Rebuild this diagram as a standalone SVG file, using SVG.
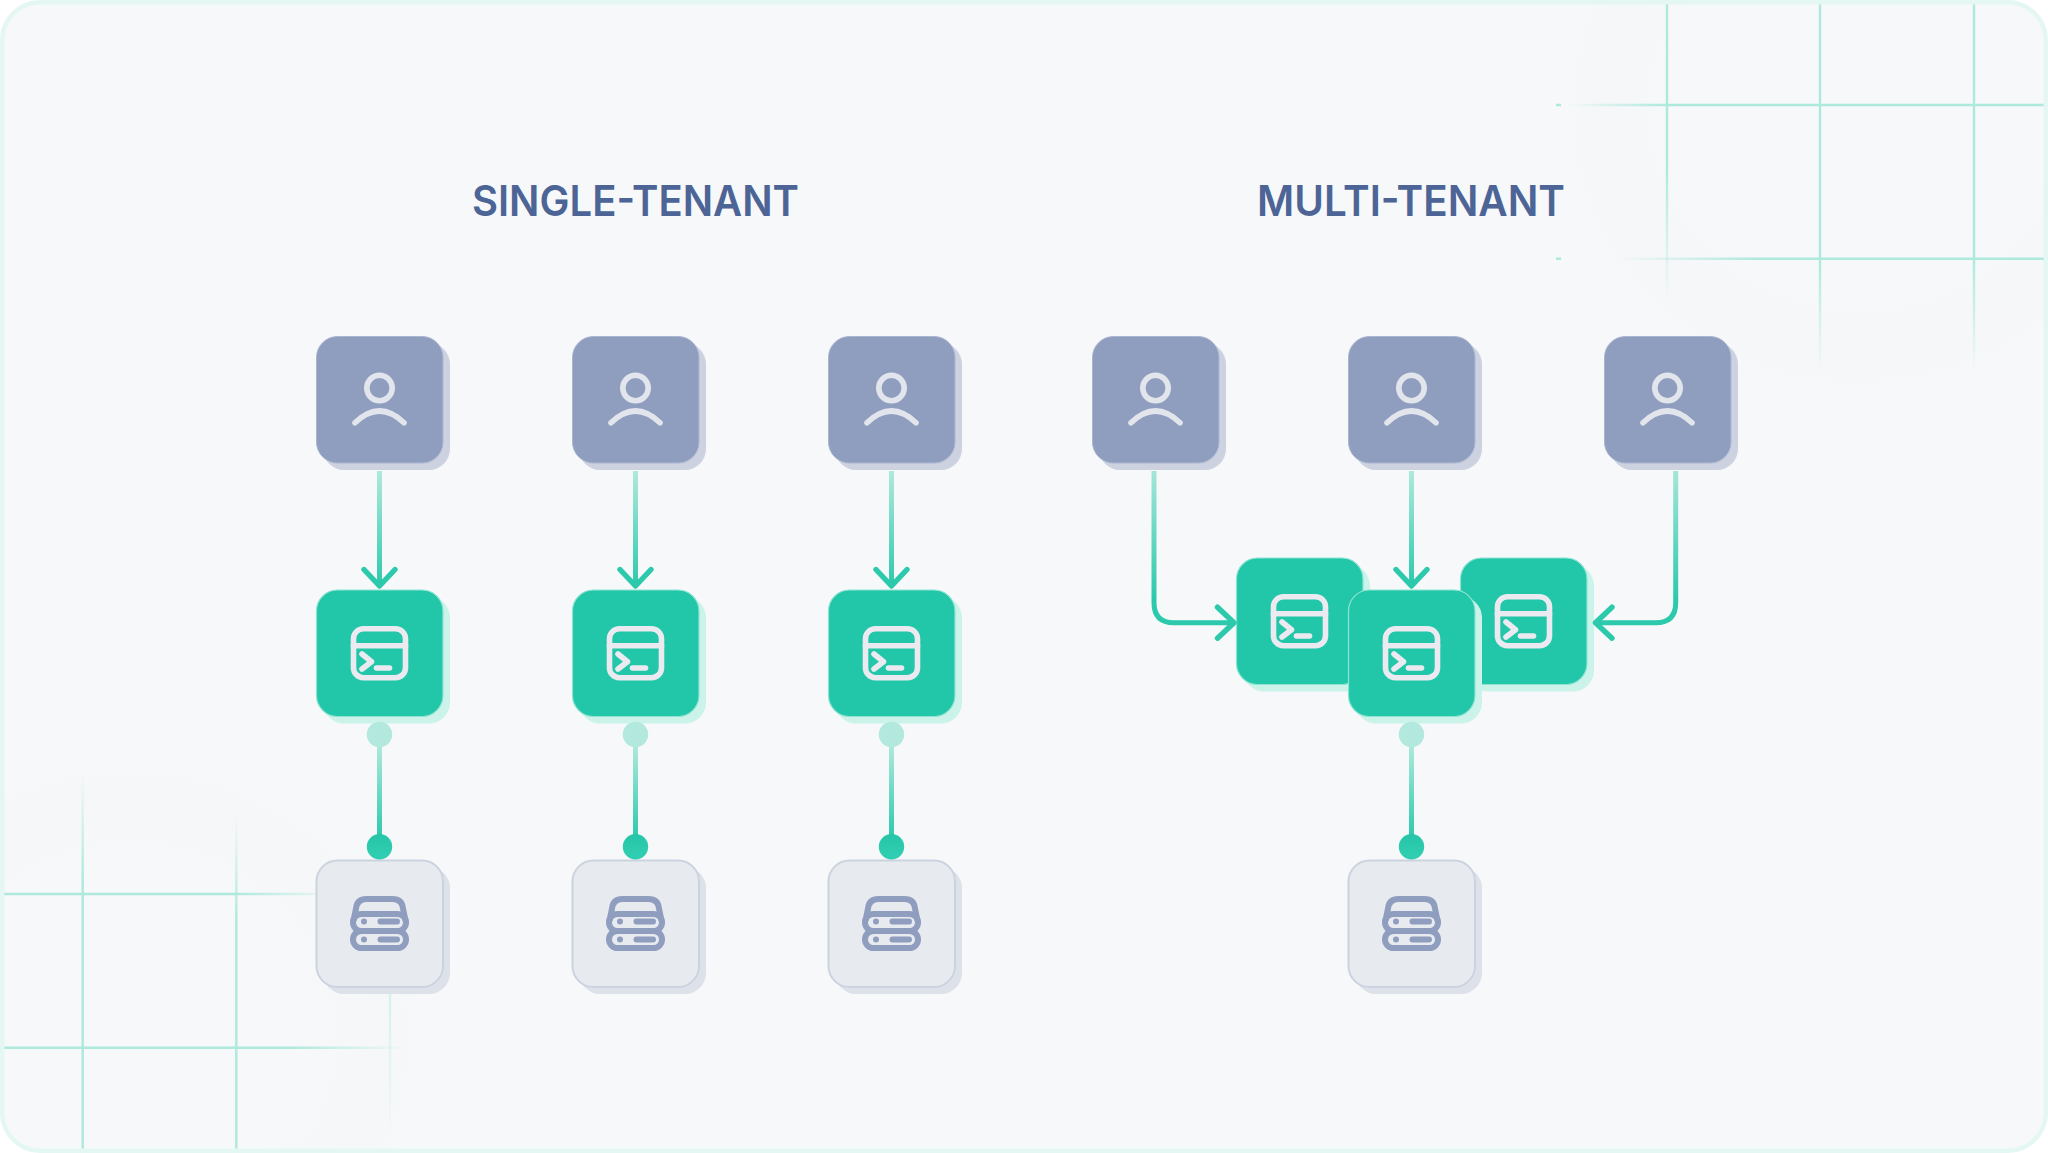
<svg xmlns="http://www.w3.org/2000/svg" width="2048" height="1153" viewBox="0 0 2048 1153">
<style>
.title{font-family:"Inter","Liberation Sans",Arial,sans-serif;font-weight:600;font-size:43px;fill:#4d6496;text-anchor:middle}
.ic{fill:none;stroke-width:5.6;stroke-linecap:round;stroke-linejoin:round}
.ic-user{stroke:#e3e5ec}.ic-term{stroke:#ebeaf0}.ic-db{stroke:#8f9dbf;stroke-width:6}
.ic-dot{fill:#8f9dbf;stroke:none}
.u-sh{fill:#ccd2e0}.u-bd{fill:#8f9dbf;stroke:#a9b5cf;stroke-width:1}
.s-sh{fill:#ccf3ea}.s-bd{fill:#22c7a9;stroke:#8fe3d2;stroke-width:1.2}
.d-sh{fill:#dde1e9}.d-bd{fill:#e7eaee;stroke:#ccd2e0;stroke-width:2}
.gl{stroke-width:2.4;fill:none}
.cn{fill:none;stroke-width:5}
</style>
<defs>
<linearGradient id="gA" gradientUnits="userSpaceOnUse" x1="0" y1="471" x2="0" y2="586"><stop offset="0" stop-color="#b0e9dd"/><stop offset="1" stop-color="#2cc9ac"/></linearGradient>
<linearGradient id="gE" gradientUnits="userSpaceOnUse" x1="0" y1="471" x2="0" y2="600"><stop offset="0" stop-color="#a4e6d9"/><stop offset="1" stop-color="#2cc9ac"/></linearGradient>
<linearGradient id="gB" gradientUnits="userSpaceOnUse" x1="0" y1="745" x2="0" y2="838"><stop offset="0" stop-color="#b0e9dd"/><stop offset="1" stop-color="#2cc9ac"/></linearGradient>
<linearGradient id="gD" x1="0" y1="0" x2="0" y2="1"><stop offset="0" stop-color="#25c5a7"/><stop offset="1" stop-color="#32d0b2"/></linearGradient>
<radialGradient id="blob"><stop offset="0" stop-color="#f3f4f6" stop-opacity="0"/><stop offset="0.6" stop-color="#f3f4f6" stop-opacity="0"/><stop offset="0.88" stop-color="#f3f4f6" stop-opacity="0.35"/><stop offset="1" stop-color="#f3f4f6" stop-opacity="0"/></radialGradient>
<linearGradient id="v1" gradientUnits="userSpaceOnUse" x1="0" y1="170" x2="0" y2="300"><stop offset="0" stop-color="#aee9dd"/><stop offset="1" stop-color="#aee9dd" stop-opacity="0"/></linearGradient>
<linearGradient id="v2" gradientUnits="userSpaceOnUse" x1="0" y1="260" x2="0" y2="373"><stop offset="0" stop-color="#aee9dd"/><stop offset="1" stop-color="#aee9dd" stop-opacity="0"/></linearGradient>
<linearGradient id="h1" gradientUnits="userSpaceOnUse" x1="1566" y1="0" x2="1667" y2="0"><stop offset="0" stop-color="#aee9dd" stop-opacity="0"/><stop offset="1" stop-color="#aee9dd"/></linearGradient>
<linearGradient id="h2" gradientUnits="userSpaceOnUse" x1="1615" y1="0" x2="1760" y2="0"><stop offset="0" stop-color="#aee9dd" stop-opacity="0"/><stop offset="1" stop-color="#aee9dd"/></linearGradient>
<linearGradient id="v3" gradientUnits="userSpaceOnUse" x1="0" y1="773" x2="0" y2="880"><stop offset="0" stop-color="#aee9dd" stop-opacity="0"/><stop offset="1" stop-color="#aee9dd"/></linearGradient>
<linearGradient id="v4" gradientUnits="userSpaceOnUse" x1="0" y1="816" x2="0" y2="920"><stop offset="0" stop-color="#aee9dd" stop-opacity="0"/><stop offset="1" stop-color="#aee9dd"/></linearGradient>
<linearGradient id="v5" gradientUnits="userSpaceOnUse" x1="0" y1="990" x2="0" y2="1145"><stop offset="0" stop-color="#aee9dd" stop-opacity="0.45"/><stop offset="1" stop-color="#aee9dd" stop-opacity="0"/></linearGradient>
<linearGradient id="h3" gradientUnits="userSpaceOnUse" x1="236" y1="0" x2="316" y2="0"><stop offset="0" stop-color="#aee9dd"/><stop offset="1" stop-color="#aee9dd" stop-opacity="0.25"/></linearGradient>
<linearGradient id="h4" gradientUnits="userSpaceOnUse" x1="290" y1="0" x2="408" y2="0"><stop offset="0" stop-color="#aee9dd"/><stop offset="1" stop-color="#aee9dd" stop-opacity="0"/></linearGradient>
<clipPath id="frame"><rect x="4" y="4" width="2040" height="1145" rx="36"/></clipPath>
<marker id="ah" markerUnits="userSpaceOnUse" markerWidth="44" markerHeight="44" refX="22" refY="22" orient="auto"><path d="M5.5 6.5 L22 22 L5.5 37.5" fill="none" stroke="#2cc9ac" stroke-width="5.4" stroke-linecap="round" stroke-linejoin="round"/></marker>
<g id="b-user"><rect class="u-sh" x="-56.5" y="-56.5" width="127" height="127" rx="21"/><rect class="u-bd" x="-63" y="-63" width="126.5" height="126.5" rx="21"/></g>
<g id="b-srv"><rect class="s-sh" x="-56.5" y="-56.5" width="127" height="127" rx="21"/><rect class="s-bd" x="-63" y="-63" width="126.5" height="126.5" rx="21"/></g>
<g id="b-db"><rect class="d-sh" x="-56.5" y="-56.5" width="127" height="127" rx="21"/><rect class="d-bd" x="-63" y="-63" width="126.5" height="126.5" rx="21"/></g>
<g id="i-user" class="ic ic-user"><circle cx="0" cy="-11.5" r="12.7"/><path d="M-24.5 23.2 Q0 -0.2 24.5 23.2"/></g>
<g id="i-term" class="ic ic-term"><rect x="-26" y="-24.3" width="52" height="49" rx="10"/><path d="M-26 -7.3 H26"/><path d="M-17.5 1 L-8 8.7 L-17.5 16"/><path d="M-3 15 H10"/></g>
<g id="i-db"><g class="ic ic-db"><path d="M-26 -3 L-23.5 -15 Q-22.5 -24.5 -13 -24.5 H13 Q22.5 -24.5 23.5 -15 L26 -3"/><rect x="-26.5" y="-9.5" width="53" height="17" rx="8.5"/><rect x="-26.5" y="7.5" width="53" height="17" rx="8.5"/><path d="M1 -2 H17.5"/><path d="M1 16 H17.5"/></g><circle class="ic-dot" cx="-15.5" cy="-2" r="3"/><circle class="ic-dot" cx="-15.5" cy="16" r="3"/></g>
</defs>

<rect x="0" y="0" width="2048" height="1153" fill="#ffffff"/>
<rect x="2" y="2" width="2044" height="1149" rx="38" fill="#f7f8fa"/>

<g id="background" clip-path="url(#frame)">
<ellipse cx="1860" cy="110" rx="300" ry="285" fill="url(#blob)"/>
<ellipse cx="130" cy="1040" rx="290" ry="280" fill="url(#blob)"/>
<g id="grid-top-right">
<path class="gl" d="M1667 4V300" stroke="url(#v1)"/>
<path class="gl" d="M1820 4V373" stroke="url(#v2)"/>
<path class="gl" d="M1974 4V373" stroke="url(#v2)"/>
<path class="gl" d="M1566 105H2045" stroke="url(#h1)"/>
<path class="gl" d="M1615 258.7H2045" stroke="url(#h2)"/>
<path class="gl" d="M1556 105H1561M1556 258.7H1561" stroke="#aee9dd"/>
</g>
<g id="grid-bottom-left">
<path class="gl" d="M82.7 773V1149" stroke="url(#v3)"/>
<path class="gl" d="M236.3 816V1149" stroke="url(#v4)"/>
<path class="gl" d="M390 990V1145" stroke="url(#v5)"/>
<path class="gl" d="M4 894H316" stroke="url(#h3)"/>
<path class="gl" d="M4 1047.7H408" stroke="url(#h4)"/>
</g>
</g>
<rect x="2.2" y="2.2" width="2043.6" height="1148.6" rx="38" fill="none" stroke="#e4f7f3" stroke-width="4.4"/>

<text class="title" x="635.5" y="216" textLength="327" lengthAdjust="spacingAndGlyphs">SINGLE-TENANT</text>
<text class="title" x="1411" y="216" textLength="308" lengthAdjust="spacingAndGlyphs">MULTI-TENANT</text>

<g id="nodes">
<g id="user-1" class="node" transform="translate(379.5,399.5)"><use href="#b-user"/><use href="#i-user"/></g>
<g id="user-2" class="node" transform="translate(635.5,399.5)"><use href="#b-user"/><use href="#i-user"/></g>
<g id="user-3" class="node" transform="translate(891.5,399.5)"><use href="#b-user"/><use href="#i-user"/></g>
<g id="user-4" class="node" transform="translate(1155.5,399.5)"><use href="#b-user"/><use href="#i-user"/></g>
<g id="user-5" class="node" transform="translate(1411.5,399.5)"><use href="#b-user"/><use href="#i-user"/></g>
<g id="user-6" class="node" transform="translate(1667.5,399.5)"><use href="#b-user"/><use href="#i-user"/></g>

<g id="server-1" class="node" transform="translate(379.5,653)"><use href="#b-srv"/><use href="#i-term"/></g>
<g id="server-2" class="node" transform="translate(635.5,653)"><use href="#b-srv"/><use href="#i-term"/></g>
<g id="server-3" class="node" transform="translate(891.5,653)"><use href="#b-srv"/><use href="#i-term"/></g>
<g id="server-4" class="node" transform="translate(1299.5,621)"><use href="#b-srv"/><use href="#i-term"/></g>
<g id="server-5" class="node" transform="translate(1523.5,621)"><use href="#b-srv"/><use href="#i-term"/></g>
<g id="server-6" class="node" transform="translate(1411.5,653)"><use href="#b-srv"/><use href="#i-term"/></g>

<g id="db-1" class="node" transform="translate(379.5,923.5)"><use href="#b-db"/><use href="#i-db"/></g>
<g id="db-2" class="node" transform="translate(635.5,923.5)"><use href="#b-db"/><use href="#i-db"/></g>
<g id="db-3" class="node" transform="translate(891.5,923.5)"><use href="#b-db"/><use href="#i-db"/></g>
<g id="db-4" class="node" transform="translate(1411.5,923.5)"><use href="#b-db"/><use href="#i-db"/></g>
</g>

<g id="connectors">
<path class="cn" d="M379.5 471V586" stroke="url(#gA)" marker-end="url(#ah)"/>
<path class="cn" d="M635.5 471V586" stroke="url(#gA)" marker-end="url(#ah)"/>
<path class="cn" d="M891.5 471V586" stroke="url(#gA)" marker-end="url(#ah)"/>
<path class="cn" d="M1411.5 471V586" stroke="url(#gA)" marker-end="url(#ah)"/>
<path class="cn" d="M1154 471V602.7Q1154 622.7 1174 622.7H1234" stroke="url(#gE)" marker-end="url(#ah)"/>
<path class="cn" d="M1675.7 471V602.7Q1675.7 622.7 1655.7 622.7H1595.5" stroke="url(#gE)" marker-end="url(#ah)"/>

<g id="link-1"><path class="cn" d="M379.5 745V838" stroke="url(#gB)"/><circle cx="379.5" cy="734.5" r="12.7" fill="#b2e8dd"/><circle cx="379.5" cy="846.7" r="12.7" fill="url(#gD)"/></g>
<g id="link-2"><path class="cn" d="M635.5 745V838" stroke="url(#gB)"/><circle cx="635.5" cy="734.5" r="12.7" fill="#b2e8dd"/><circle cx="635.5" cy="846.7" r="12.7" fill="url(#gD)"/></g>
<g id="link-3"><path class="cn" d="M891.5 745V838" stroke="url(#gB)"/><circle cx="891.5" cy="734.5" r="12.7" fill="#b2e8dd"/><circle cx="891.5" cy="846.7" r="12.7" fill="url(#gD)"/></g>
<g id="link-4"><path class="cn" d="M1411.5 745V838" stroke="url(#gB)"/><circle cx="1411.5" cy="734.5" r="12.7" fill="#b2e8dd"/><circle cx="1411.5" cy="846.7" r="12.7" fill="url(#gD)"/></g>
</g>
</svg>
